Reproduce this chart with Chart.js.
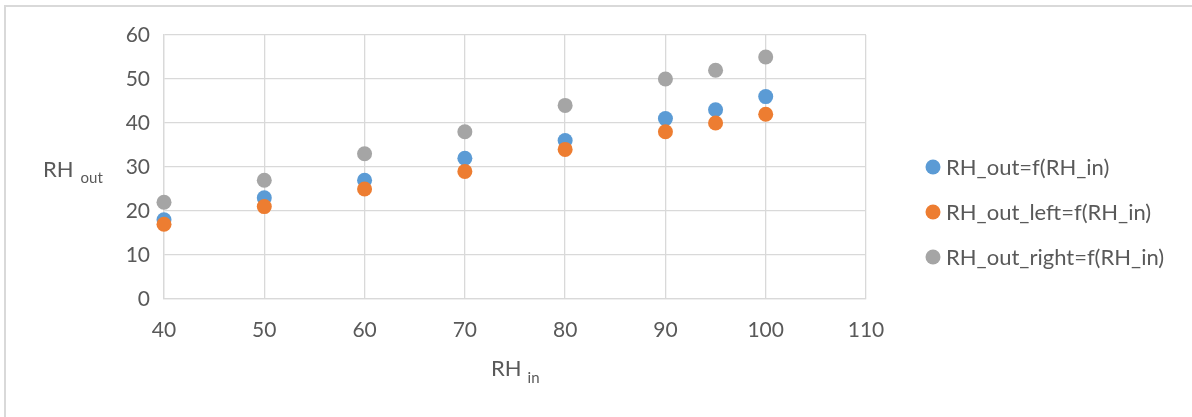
<!DOCTYPE html>
<html>
<head>
<meta charset="utf-8">
<script src="https://cdn.jsdelivr.net/npm/chart.js@4/dist/chart.umd.min.js"></script>
<style>
  html, body { margin: 0; padding: 0; background: #ffffff; }
  #wrap { position: relative; width: 1192px; height: 417px; }
  canvas { display: block; }
</style>
</head>
<body>
<div id="wrap"><canvas id="chart" width="1192" height="417"></canvas></div>
<script>
// Inlet relative humidity (x) and the outlet readings (y)
const rhIn       = [40, 50, 60, 70, 80, 90, 95, 100];
const rhOut      = [18, 23, 27, 32, 36, 41, 43, 46];
const rhOutLeft  = [17, 21, 25, 29, 34, 38, 40, 42];
const rhOutRight = [22, 27, 33, 38, 44, 50, 52, 55];

const seriesNames  = ['RH_out=f(RH_in)', 'RH_out_left=f(RH_in)', 'RH_out_right=f(RH_in)'];
const seriesColors = ['#5B9BD5', '#ED7D31', '#A5A5A5'];

const xRange = { min: 40, max: 110, step: 10 };
const yRange = { min: 0, max: 60, step: 10 };

const TEXT = '#595959';
const GRID = '#d9d9d9';
const FONT = 'Lato, "DejaVu Sans", sans-serif';

function pts(ys) { return rhIn.map((x, i) => ({ x: x, y: ys[i] })); }

// Outer frame, legend and axis titles (with subscripts)
const decorations = {
  id: 'decorations',
  beforeDraw(chart) {
    const ctx = chart.ctx;
    ctx.save();
    ctx.fillStyle = '#ffffff';
    ctx.fillRect(0, 0, chart.width, chart.height);
    ctx.strokeStyle = GRID;
    ctx.lineWidth = 2;
    ctx.beginPath();
    ctx.moveTo(5, chart.height);
    ctx.lineTo(5, 6);
    ctx.lineTo(chart.width, 6);
    ctx.stroke();
    ctx.restore();
  },
  afterDraw(chart) {
    const ctx = chart.ctx;
    ctx.save();
    ctx.fillStyle = TEXT;
    ctx.textAlign = 'left';
    ctx.textBaseline = 'alphabetic';

    // y axis title: RH with subscript "out"
    ctx.font = '22px ' + FONT;
    ctx.fillText('RH', 43, 177);
    let w = ctx.measureText('RH').width;
    ctx.font = '15px ' + FONT;
    ctx.fillText('out', 43 + w + 7, 183);

    // x axis title: RH with subscript "in"
    ctx.font = '22px ' + FONT;
    ctx.fillText('RH', 491, 376);
    w = ctx.measureText('RH').width;
    ctx.font = '15px ' + FONT;
    ctx.fillText('in', 491 + w + 6, 383);

    // legend
    const lx = 933, ly0 = 167, dy = 45;
    ctx.font = '22px ' + FONT;
    ctx.textBaseline = 'middle';
    chart.data.datasets.forEach((ds, i) => {
      const y = ly0 + i * dy;
      ctx.fillStyle = ds.backgroundColor;
      ctx.beginPath();
      ctx.arc(lx, y, 7.5, 0, Math.PI * 2);
      ctx.fill();
      ctx.fillStyle = TEXT;
      ctx.fillText(ds.label, lx + 13, y + 1);
    });
    ctx.restore();
  }
};

new Chart(document.getElementById('chart'), {
  type: 'scatter',
  data: {
    datasets: [
      { label: seriesNames[0], data: pts(rhOut),      backgroundColor: seriesColors[0], order: 2 },
      { label: seriesNames[1], data: pts(rhOutLeft),  backgroundColor: seriesColors[1], order: 1 },
      { label: seriesNames[2], data: pts(rhOutRight), backgroundColor: seriesColors[2], order: 0 }
    ].map(d => Object.assign(d, {
      borderWidth: 0,
      borderColor: d.backgroundColor,
      pointRadius: 7.5,
      pointHoverRadius: 7.5,
      showLine: false,
      clip: false
    }))
  },
  options: {
    responsive: false,
    animation: false,
    layout: { padding: { left: 0, top: 35, right: 326, bottom: 0 } },
    plugins: {
      legend: { display: false },
      tooltip: { enabled: false },
      title: { display: false }
    },
    scales: {
      x: {
        type: 'linear',
        min: xRange.min, max: xRange.max,
        afterFit(scale) { scale.height = 118; },
        ticks: { stepSize: xRange.step, color: TEXT, font: { family: FONT, size: 21 }, padding: 19, maxRotation: 0 },
        grid: { color: GRID, lineWidth: 1.3, drawTicks: false },
        border: { color: GRID, width: 1.3 }
      },
      y: {
        type: 'linear',
        min: yRange.min, max: yRange.max,
        afterFit(scale) { scale.width = 164; },
        ticks: { stepSize: yRange.step, color: TEXT, font: { family: FONT, size: 21 }, padding: 14 },
        grid: { color: GRID, lineWidth: 1.3, drawTicks: false },
        border: { color: GRID, width: 1.3 }
      }
    }
  },
  plugins: [decorations]
});
</script>
</body>
</html>
